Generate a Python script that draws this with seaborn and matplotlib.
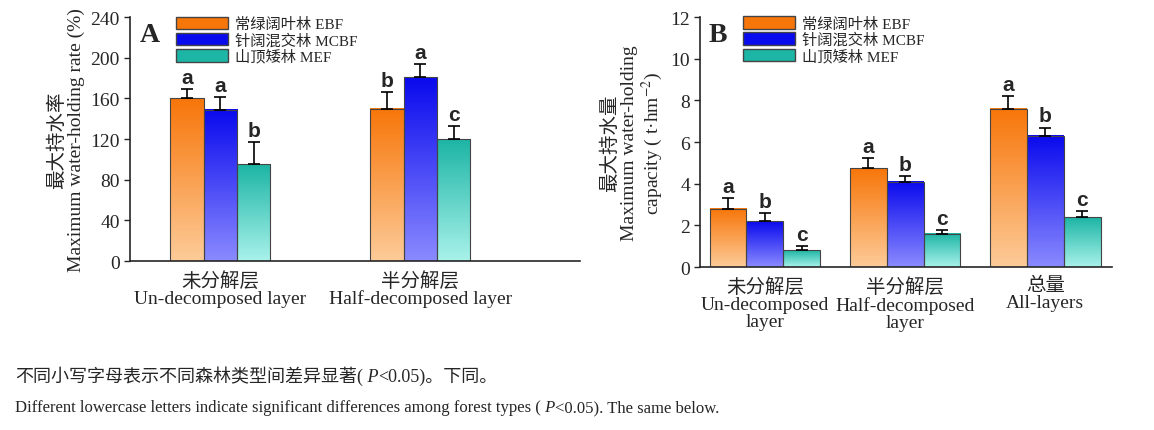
import numpy as np
import pandas as pd
import matplotlib
matplotlib.use("Agg")
import matplotlib.pyplot as plt
from matplotlib.colors import LinearSegmentedColormap
from matplotlib.patches import Patch
import seaborn as sns

forests = ["常绿阔叶林 EBF", "针阔混交林 MCBF", "山顶矮林 MEF"]

layers_a = ["未分解层\nUn-decomposed layer", "半分解层\nHalf-decomposed layer"]
rate_mean = {"EBF": [160, 150], "MCBF": [149, 181], "MEF": [95, 120]}
rate_err = {"EBF": [9, 16], "MCBF": [12, 13], "MEF": [22, 13]}
rate_sig = {"EBF": ["a", "b"], "MCBF": ["a", "a"], "MEF": ["b", "c"]}

layers_b = ["未分解层\nUn-decomposed\nlayer", "半分解层\nHalf-decomposed\nlayer", "总量\nAll-layers"]
cap_mean = {"EBF": [2.8, 4.75, 7.6], "MCBF": [2.2, 4.1, 6.3], "MEF": [0.8, 1.6, 2.4]}
cap_err = {"EBF": [0.5, 0.5, 0.6], "MCBF": [0.4, 0.25, 0.4], "MEF": [0.2, 0.2, 0.3]}
cap_sig = {"EBF": ["a", "a", "a"], "MCBF": ["b", "b", "b"], "MEF": ["c", "c", "c"]}

codes = ["EBF", "MCBF", "MEF"]
grad = {"EBF": ("#F7760A", "#FDCB98"), "MCBF": ("#0A0AEE", "#8A8AFF"), "MEF": ("#1DB5A5", "#A8F2EA")}

sns.set_style("ticks")
plt.rcParams["font.family"] = ["Liberation Serif", "Noto Sans CJK SC"]
plt.rcParams["mathtext.fontset"] = "stix"


def make_df(layers, means, errs, sigs):
    rows = []
    for code, name in zip(codes, forests):
        for i, lay in enumerate(layers):
            rows.append({"layer": lay, "forest": name, "code": code,
                         "value": means[code][i], "err": errs[code][i], "sig": sigs[code][i]})
    return pd.DataFrame(rows)


def draw(ax, df, layers, width, ylim, yticks, ylabel, tag, xlim, off):
    sns.barplot(data=df, x="layer", y="value", hue="forest", order=layers,
                hue_order=forests, width=width, ax=ax, errorbar=None,
                edgecolor="#444444", linewidth=0.8, legend=False)
    bars = ax.patches
    for k, code in enumerate(codes):
        sub = df[df.code == code].set_index("layer").loc[layers]
        for i, lay in enumerate(layers):
            p = bars[k * len(layers) + i]
            x0, w, h = p.get_x(), p.get_width(), p.get_height()
            cm = LinearSegmentedColormap.from_list("g", [grad[code][1], grad[code][0]])
            g = np.linspace(0, 1, 100).reshape(-1, 1)
            ax.imshow(g, extent=(x0, x0 + w, 0, h), origin="lower", cmap=cm,
                      aspect="auto", zorder=p.get_zorder() - 0.1)
            p.set_facecolor("none")
            xc = x0 + w / 2
            e = sub["err"].iloc[i]
            ax.errorbar([xc], [h], yerr=[[0], [e]], fmt="none", ecolor="black",
                        elinewidth=1.2, capsize=4, capthick=1.2, zorder=5)
            ax.text(xc, h + e + off, sub["sig"].iloc[i], ha="center", va="bottom",
                    fontsize=15, fontweight="bold", family="Liberation Sans")
    ax.set_xlim(*xlim)
    ax.set_ylim(*ylim)
    ax.set_yticks(yticks)
    ax.set_xlabel("")
    ax.set_ylabel(ylabel, fontsize=14, linespacing=1.1)
    ax.tick_params(axis="both", labelsize=14, length=4, width=1)
    ax.tick_params(axis="x", length=0, pad=7)
    for s in ["left", "bottom"]:
        ax.spines[s].set_linewidth(1.2)
    sns.despine(ax=ax)
    ax.text(0.02, 0.98, tag, transform=ax.transAxes, fontsize=20, fontweight="bold",
            va="top", ha="left")
    handles = [Patch(facecolor=grad[c][0], edgecolor="#444444") for c in codes]
    ax.legend(handles, forests, loc="upper left", bbox_to_anchor=(0.08, 1.04),
              frameon=False, fontsize=11, handlelength=3.4, handleheight=0.9,
              labelspacing=0.1, borderaxespad=0.2, handletextpad=0.5)


fig = plt.figure(figsize=(11.54, 4.31), dpi=100)
ax1 = fig.add_axes([0.113, 0.392, 0.390, 0.566])
ax2 = fig.add_axes([0.607, 0.378, 0.357, 0.580])

draw(ax1, make_df(layers_a, rate_mean, rate_err, rate_sig), layers_a, 0.5, (0, 240),
     range(0, 241, 40), "最大持水率\nMaximum water-holding rate (%)", "A", (-0.45, 1.8), 2)
draw(ax2, make_df(layers_b, cap_mean, cap_err, cap_sig), layers_b, 0.79, (0, 12),
     range(0, 13, 2), "最大持水量\nMaximum water-holding\ncapacity ( t·hm$^{-2}$)", "B",
     (-0.46, 2.48), 0.1)
for ax in (ax1, ax2):
    for lab in ax.get_xticklabels():
        lab.set_linespacing(1.0)
        lab.set_fontsize(14)


def caption(y, parts, size):
    prev = None
    for s, style in parts:
        if prev is None:
            prev = fig.text(0.013, y, s, fontsize=size, style=style)
        else:
            prev = fig.text(0, 0, s, fontsize=size, style=style,
                            transform=matplotlib.transforms.offset_copy(
                                prev.get_transform(), fig=fig))
            prev.remove()
            prev = plt.annotate(s, xy=(1, 0), xycoords=fig.texts[-1],
                                fontsize=size, style=style, va="bottom", ha="left",
                                annotation_clip=False)
            fig.texts.append(prev) if False else None


# simple chained caption using annotate relative to previous artist
def chain(y, parts, size):
    t = fig.text(0.013, y, parts[0][0], fontsize=size, style=parts[0][1], va="bottom")
    for s, style in parts[1:]:
        t = fig.text(0, 0, "", fontsize=size)  # placeholder removed below
        t.remove()
        t = ax1.annotate(s, xy=(1, 0), xycoords=last, fontsize=size, style=style,
                         va="bottom", ha="left", annotation_clip=False)


t = fig.text(0.013, 0.105, "不同小写字母表示不同森林类型间差异显著(", fontsize=13, va="bottom")
t = ax1.annotate(" P", xy=(1, 0), xycoords=t, fontsize=13, style="italic",
                 va="bottom", ha="left", annotation_clip=False)
t = ax1.annotate("<0.05)。下同。", xy=(1, 0), xycoords=t, fontsize=13,
                 va="bottom", ha="left", annotation_clip=False)

t = fig.text(0.013, 0.035, "Different lowercase letters indicate significant differences among forest types (",
             fontsize=12, va="bottom")
t = ax1.annotate(" P", xy=(1, 0), xycoords=t, fontsize=12, style="italic",
                 va="bottom", ha="left", annotation_clip=False)
t = ax1.annotate("<0.05). The same below.", xy=(1, 0), xycoords=t, fontsize=12,
                 va="bottom", ha="left", annotation_clip=False)

fig.savefig("out.png", dpi=100)
